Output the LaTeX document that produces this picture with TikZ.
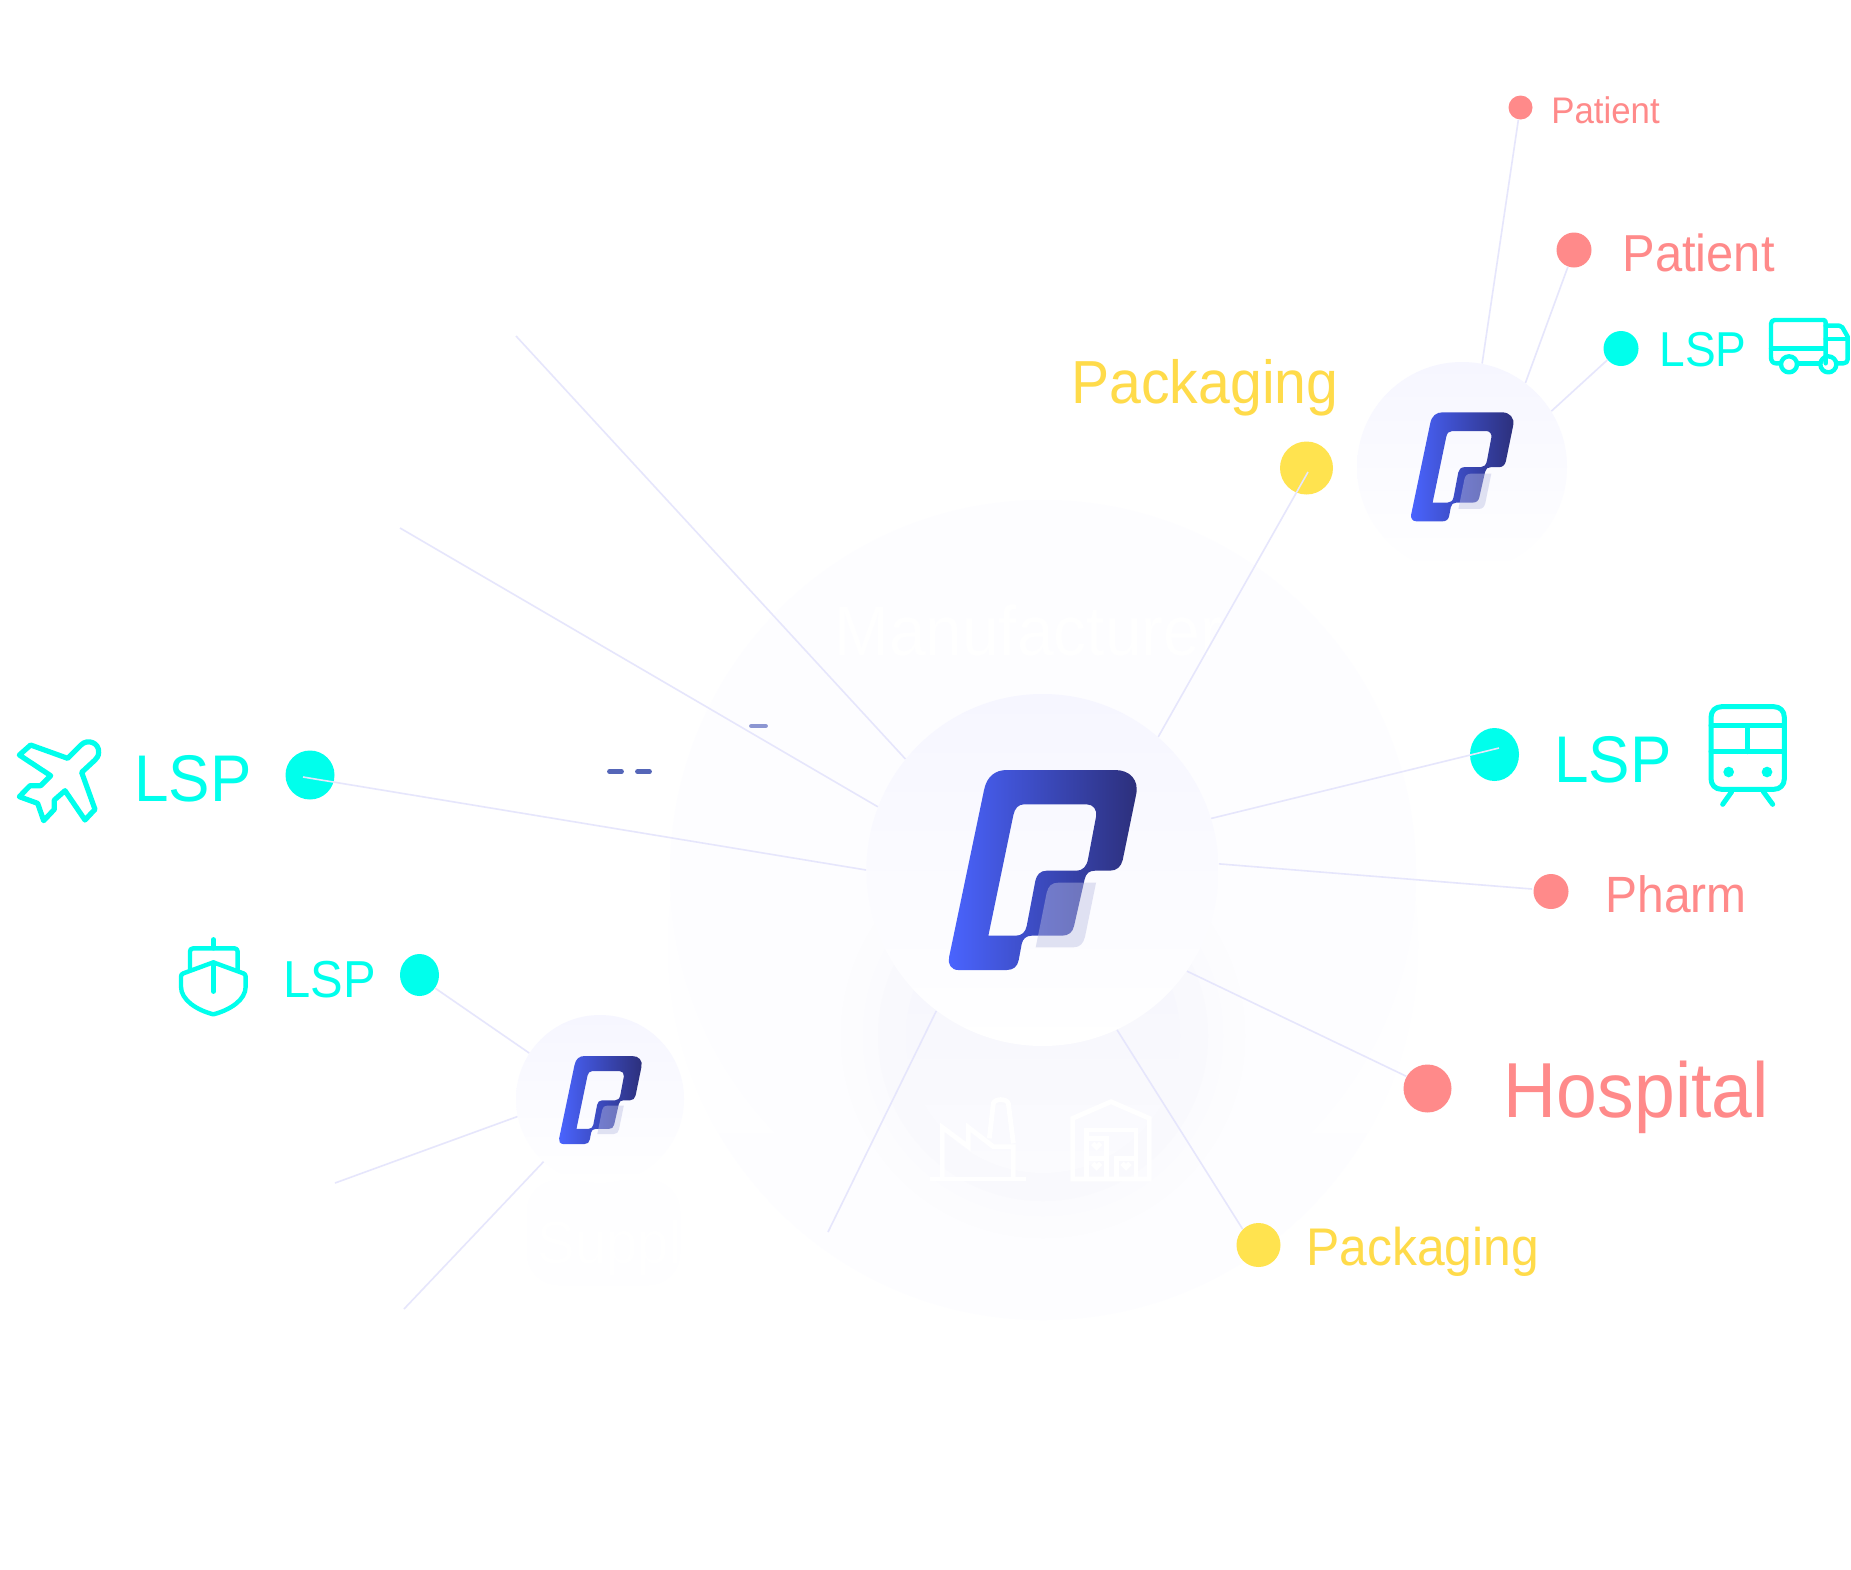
\documentclass[tikz,border=0pt]{standalone}
\usepackage{fontspec}
\setmainfont[FakeStretch=0.94]{Liberation Sans}
\usetikzlibrary{shapes.geometric}
\definecolor{cy}{HTML}{00FFEC}
\definecolor{coral}{HTML}{FF8A8A}
\definecolor{yel}{HTML}{FFE34F}
\definecolor{yeltxt}{HTML}{FFDB4A}
\definecolor{linec}{HTML}{E6E6FC}
\definecolor{logoa}{HTML}{4A64FF}
\definecolor{logob}{HTML}{2C2F7A}
\definecolor{over}{HTML}{BBBEE3}
\definecolor{disc}{HTML}{F6F6FF}
\definecolor{dasha}{HTML}{5566B8}
\definecolor{dashb}{HTML}{8C96D2}
\definecolor{bga}{HTML}{FDFDFF}
\definecolor{bgb}{HTML}{FCFCFE}
\definecolor{bgc}{HTML}{FBFBFE}
\definecolor{bgd}{HTML}{F9F9FD}
\definecolor{bge}{HTML}{F5F5FC}
\definecolor{bgf}{HTML}{FEFEFF}
\newcommand\fz[1]{\fontsize{\the\dimexpr#1pt/2\relax}{#1pt}\selectfont}
\newcommand\logomark[3]{%
\begin{scope}[shift={(#1,#2)},scale=#3/3,shift={(-296,-270)}]
\shade[even odd rule,left color=logoa,right color=logob]
(470,270) -- (795,270) .. controls (840,270) and (868,300) .. (858,345) -- (818,540) .. controls (813,560) and (800,572) .. (780,572) -- (735,572) .. controls (718,572) and (708,580) .. (704,597) -- (672,738) .. controls (668,757) and (655,767) .. (636,767) -- (545,767) .. controls (528,767) and (518,777) .. (515,792) -- (506,840) .. controls (502,860) and (490,870) .. (470,870) -- (325,870) .. controls (303,870) and (293,852) .. (297,832) -- (402,330) .. controls (410,290) and (435,270) .. (470,270) -- cycle
(522,373) -- (710,373) .. controls (730,373) and (742,390) .. (738,410) -- (714,537) .. controls (710,560) and (697,572) .. (680,572) -- (590,572) .. controls (570,572) and (560,585) .. (556,602) -- (530,738) .. controls (526,757) and (515,767) .. (497,767) -- (415,767) -- (490,405) .. controls (494,385) and (505,373) .. (522,373) -- cycle;
\fill[over,fill opacity=.43] (738,608) -- (705,770) .. controls (700,790) and (690,802) .. (670,802) -- (557,802) -- (590,638) .. controls (595,618) and (605,608) .. (625,608) -- cycle;
\end{scope}}
\tikzset{
 x=0.5pt,y=-0.5pt,
 hub/.style={circle,inner sep=0pt,shade,top color=disc,bottom color=white,draw=none},
 dotnode/.style={ellipse,inner sep=0pt,fill=#1,draw=none},
 link/.style={draw=linec,line width=0.8pt},
 lbl/.style={anchor=base west,inner sep=0pt,text=#1},
 icon/.style={draw=cy,line join=round,line cap=round},
 ghost/.style={draw=white,line width=2.4pt,line join=miter},
 dashmark/.style={line width=2.4pt,line cap=round}
}
\begin{document}
\begin{tikzpicture}
\useasboundingbox (0,0) rectangle (1851,1569);
\fill[white] (0,0) rectangle (1851,1569);
% pale background discs
\shade[top color=white,bottom color=bga] (1043,945) circle (375);
\fill[bga] (1043,873) circle (373);
\fill[bgb] (1043,1036) circle (202);
\fill[bgc] (1043,1036) circle (180);
\fill[bgd] (1043,1036) circle (165);
\shade[top color=bge,bottom color=bgc] (1043,1036) circle (137);
% faint labels and icons
\node[lbl=white,font=\fz{70}] (mfr) at (834,655) {Manufacturer};
\fill[bgf,rounded corners=16pt] (527,1180) rectangle (680,1285);
\node[lbl=white,font=\fz{60}] (sup) at (537,1263) {Supplier};
\begin{scope}[shift={(850,1000)},scale=1/3]
\draw[ghost] (240,537) -- (527,537);
\draw[ghost] (277,537) -- (277,382) -- (355,440) -- (355,382) -- (430,440) -- (490,440) -- (490,537);
\draw[ghost] (418,415) -- (430,310) .. controls (435,295) and (470,295) .. (475,310) -- (490,430);
\draw[ghost] (668,537) -- (668,355) -- (783,305) -- (898,355) -- (898,537) -- cycle;
\draw[ghost] (710,537) -- (710,390) -- (858,390) -- (858,537);
\draw[ghost] (710,415) -- (770,415) -- (770,537);
\draw[ghost] (710,475) -- (770,475);
\draw[ghost] (800,537) -- (800,475) -- (858,475);
\draw[ghost] (728,430) -- (740,442) -- (752,430);
\draw[ghost] (728,490) -- (740,502) -- (752,490);
\draw[ghost] (816,490) -- (828,502) -- (840,490);
\end{scope}
% hubs
\node[hub,minimum size=176pt] (main) at (1042.5,870) {};
\node[hub,minimum size=105pt] (tr) at (1462,467) {};
\node[hub,minimum size=84pt] (bl) at (600,1099) {};
% dots
\node[dotnode=cy,minimum width=24.5pt,minimum height=24.5pt] (dLSPl) at (310,775) {};
\node[dotnode=cy,minimum width=19.5pt,minimum height=21pt] (dLSPs) at (419.5,975) {};
\node[dotnode=cy,minimum width=24.5pt,minimum height=26.5pt] (dLSPt) at (1494.5,754.5) {};
\node[dotnode=cy,minimum width=17.5pt,minimum height=17.5pt] (dLSPv) at (1621,348.5) {};
\node[dotnode=coral,minimum width=12pt,minimum height=12pt] (dPat1) at (1520.5,107.5) {};
\node[dotnode=coral,minimum width=17.5pt,minimum height=17.5pt] (dPat2) at (1574,250) {};
\node[dotnode=coral,minimum width=17.5pt,minimum height=17.5pt] (dPharm) at (1551,891.5) {};
\node[dotnode=coral,minimum width=24pt,minimum height=24pt] (dHosp) at (1427.5,1088.5) {};
\node[dotnode=yel,minimum width=26.5pt,minimum height=26.5pt] (dPack1) at (1306.5,468) {};
\node[dotnode=yel,minimum width=22pt,minimum height=22pt] (dPack2) at (1258.5,1245) {};
% free ends
\coordinate (f1) at (516,336);
\coordinate (f2) at (400,528);
\coordinate (f3) at (828,1232);
\coordinate (f4) at (335,1183);
\coordinate (f5) at (404,1309);
\coordinate (iL) at (303,777);
\coordinate (iP) at (1308,472);
\coordinate (iT) at (1499,748);
\coordinate (iH) at (1532,889);
% connectors
\draw[link] (f1) -- (main.141);
\draw[link] (f2) -- (main.159);
\draw[link] (iL) -- (main.180);
\draw[link] (iP) -- (main.49.6);
\draw[link] (iT) -- (main.17.3);
\draw[link] (iH) -- (main.2);
\draw[link] (dHosp.150) -- (main.-35.4);
\draw[link] (dPack2.135) -- (main.-65.7);
\draw[link] (f3) -- (main.233.3);
\draw[link] (dPat1.-100) -- (tr.79.5);
\draw[link] (dPat2.-110) -- (tr.53.7);
\draw[link] (dLSPv.220) -- (tr.32);
\draw[link] (dLSPs.-40) -- (bl.147.4);
\draw[link] (f4) -- (bl.192);
\draw[link] (f5) -- (bl.228);
% logos
\logomark{948.7}{770}{1}
\logomark{1411}{412.3}{0.545}
\logomark{559}{1056}{0.44}
% dashes
\draw[dashmark,dasha] (609.5,771.7) -- (621.5,771.7);
\draw[dashmark,dasha] (637.5,771.7) -- (649.5,771.7);
\draw[dashmark,dashb] (751.5,726) -- (765.5,726);
% labels
\node[lbl=coral,font=\fz{37}] (tPat1) at (1551,123.5) {Patient};
\node[lbl=coral,font=\fz{52}] (tPat2) at (1622,271.5) {Patient};
\node[lbl=cy,font=\fz{49}] (tLSPv) at (1659,366) {LSP};
\node[lbl=yeltxt,font=\fz{60.8}] (tPack1) at (1071,403) {Packaging};
\node[lbl=cy,font=\fz{66}] (tLSPl) at (134,801.7) {LSP};
\node[lbl=cy,font=\fz{66}] (tLSPt) at (1554,782.7) {LSP};
\node[lbl=cy,font=\fz{52}] (tLSPs) at (283,997.7) {LSP};
\node[lbl=coral,font=\fz{51}] (tPharm) at (1605,912.5) {Pharm};
\node[lbl=coral,font=\fz{78}] (tHosp) at (1503.5,1117) {Hospital};
\node[lbl=yeltxt,font=\fz{53}] (tPack2) at (1306,1265.5) {Packaging};
% plane
\begin{scope}[shift={(0,720)},scale=1/3]
\draw[icon,line width=2.6pt] (92,75) -- (203,115) -- (243,75) .. controls (262,55) and (298,68) .. (296,97) .. controls (296,108) and (290,115) .. (285,120) -- (245,157) -- (285,268) -- (255,300) -- (195,212) -- (163,240) -- (163,268) -- (131,302) -- (113,250) -- (58,230) -- (90,197) -- (122,197) -- (152,167) -- (58,105) -- cycle;
\end{scope}
% ship
\begin{scope}[shift={(0,720)},scale=1/3]
\draw[icon,line width=2.2pt] (640,727) -- (730,760) .. controls (735,762) and (737,765) .. (737,770) -- (737,800) .. controls (737,840) and (690,870) .. (640,883) .. controls (590,870) and (543,840) .. (543,800) -- (543,770) .. controls (543,765) and (545,762) .. (550,760) -- cycle;
\draw[icon,line width=2.2pt] (640,727) -- (640,815);
\draw[icon,line width=2.2pt] (640,658) -- (640,685);
\draw[icon,line width=2.2pt] (570,750) -- (570,695) .. controls (570,688) and (573,685) .. (580,685) -- (703,685) .. controls (710,685) and (713,688) .. (713,695) -- (713,750);
\end{scope}
% truck
\begin{scope}[shift={(1690,300)},scale=1/3]
\draw[icon,line width=2.2pt] (270,190) -- (258,190) .. controls (248,190) and (243,182) .. (243,172) -- (243,72) .. controls (243,65) and (247,60) .. (254,60) -- (400,60) .. controls (405,60) and (407,63) .. (407,68) -- (407,190);
\draw[icon,line width=2.2pt] (243,145) -- (407,145);
\draw[icon,line width=2.2pt] (322,190) -- (390,190);
\draw[icon,line width=2.2pt] (440,190) -- (460,190) .. controls (468,190) and (473,185) .. (473,178) -- (473,110) -- (457,82) .. controls (455,78) and (452,77) .. (448,77) -- (407,77);
\draw[icon,line width=2.2pt] (407,117) -- (473,117);
\draw[icon,line width=2.2pt] (297,193) circle (24);
\draw[icon,line width=2.2pt] (415,193) circle (24);
\end{scope}
% train
\begin{scope}[shift={(1680,690)},scale=1/3]
\draw[icon,line width=2.5pt] (125,50) -- (281,50) .. controls (300,50) and (313,63) .. (313,82) -- (313,266) .. controls (313,285) and (300,298) .. (281,298) -- (125,298) .. controls (106,298) and (93,285) .. (93,266) -- (93,82) .. controls (93,63) and (106,50) .. (125,50) -- cycle;
\draw[icon,line width=2.5pt] (93,107) -- (313,107);
\draw[icon,line width=2.5pt] (93,185) -- (313,185);
\draw[icon,line width=2.5pt] (203,107) -- (203,185);
\fill[cy] (146,246) circle (16);
\fill[cy] (261,246) circle (16);
\draw[icon,line width=2.5pt] (155,305) -- (128,343);
\draw[icon,line width=2.5pt] (250,305) -- (278,343);
\end{scope}
\end{tikzpicture}
\end{document}
